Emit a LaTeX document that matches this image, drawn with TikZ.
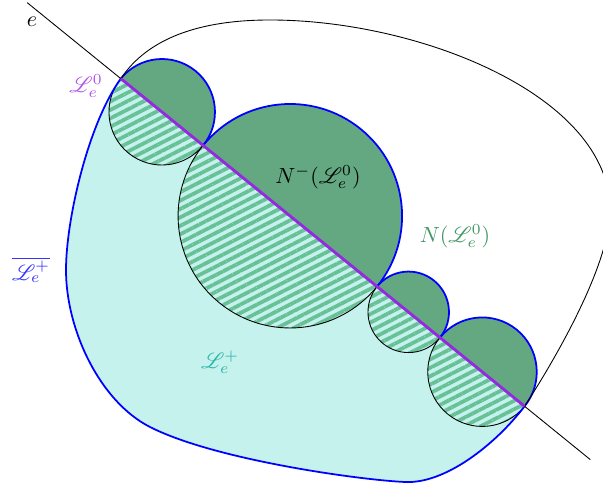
\documentclass[tikz,border=0pt]{standalone}
\usepackage{amsmath}
\usepackage{mathrsfs}
\usepackage{xcolor}
\usepackage{tikz}
\usetikzlibrary{calc,patterns.meta}

\definecolor{greenfill}{RGB}{99,168,128}
\definecolor{stripegreen}{RGB}{104,193,150}
\definecolor{cyanfill}{RGB}{198,242,237}
\definecolor{edgeviolet}{RGB}{150,40,225}
\definecolor{labelteal}{RGB}{40,180,170}
\definecolor{labelgreen}{RGB}{65,150,100}

\begin{document}
\begin{tikzpicture}[
  region/.style={fill=cyanfill},
  upper/.style={fill=greenfill},
  hatch/.style={pattern={Lines[angle=27,distance=0.12cm,line width=0.06cm]},
                pattern color=stripegreen},
  bound/.style={draw=blue, line width=0.8pt},
  zero/.style={draw=edgeviolet, line width=1.3pt},
  lbl/.style={inner sep=1pt}
]
\useasboundingbox (0,0) rectangle (9.648,7.776);
\def\ang{-39.06}

%% ---- line e, tangent points ----
\coordinate (a)  at (1.933,6.518);
\coordinate (e1) at ($(a)+(\ang:-1.93)$);
\coordinate (e2) at ($(a)+(\ang:9.675)$);
\coordinate (b)  at ($(a)+(\ang:8.32)$);

%% ---- circle centres ----
\coordinate (c1) at ($(a)+(\ang:0.848)$);
\coordinate (c2) at ($(a)+(\ang:3.488)$);
\coordinate (c3) at ($(a)+(\ang:5.928)$);
\coordinate (c4) at ($(a)+(\ang:7.448)$);

%% L_e^+ region
\path[region] (a)
  \foreach \r in {0.848,1.792,0.648,0.872}{ arc[start angle=\ang+180, end angle=\ang, radius=\r] }
  .. controls (7.92,0.656) and (7.12,0.032) .. (6.48,0.064)
  .. controls (5.76,0.096) and (3.44,0.416) .. (2.4,0.944)
  .. controls (1.6,1.35) and (1.056,2.496) .. (1.056,3.456)
  .. controls (1.056,4.256) and (1.408,5.792) .. (a) -- cycle;

%% half discs
\foreach \c/\r in {c1/0.848, c2/1.792, c3/0.648, c4/0.872}{
  \fill[upper] ($(\c)+(\ang+180:\r)$) arc[start angle=\ang+180, end angle=\ang, radius=\r] -- cycle;
  \fill[hatch] ($(\c)+(\ang+180:\r)$) arc[start angle=\ang+180, end angle=\ang+360, radius=\r] -- cycle;
  \draw ($(\c)+(\ang+180:\r)$) arc[start angle=\ang+180, end angle=\ang+360, radius=\r];
  \draw[bound] ($(\c)+(\ang+180:\r)$) arc[start angle=\ang+180, end angle=\ang, radius=\r];
}

%% boundary of L_e^+
\draw[bound] (b)
  .. controls (7.92,0.656) and (7.12,0.032) .. (6.48,0.064)
  .. controls (5.76,0.096) and (3.44,0.416) .. (2.4,0.944)
  .. controls (1.6,1.35) and (1.056,2.496) .. (1.056,3.456)
  .. controls (1.056,4.256) and (1.408,5.792) .. (a);

%% outer curve
\draw (a) .. controls (2.368,7.168) and (3.2,7.456) .. (4.32,7.456)
  .. controls (6.72,7.456) and (9.76,6.24) .. (9.76,4.416)
  .. controls (9.76,3.456) and (8.72,1.776) .. (b);

%% line e and L_e^0
\draw (e1) -- (e2);
\draw[zero] (a) -- (b);

%% Labels
\node[lbl] (le) at (0.512,7.424) {$e$};
\node[lbl, text=edgeviolet!80] (lzero) at (1.376,6.4) {$\mathscr{L}_e^0$};
\node[lbl] (nminus) at (5.088,4.944) {$N^-(\mathscr{L}_e^0)$};
\node[lbl, text=labelgreen] (nfull) at (7.28,4.0) {$N(\mathscr{L}_e^0)$};
\node[lbl, text=blue!80] (lclos) at (0.496,3.456) {$\overline{\mathscr{L}_e^+}$};
\node[lbl, text=labelteal] (lplus) at (3.52,1.984) {$\mathscr{L}_e^+$};

\end{tikzpicture}
\end{document}
